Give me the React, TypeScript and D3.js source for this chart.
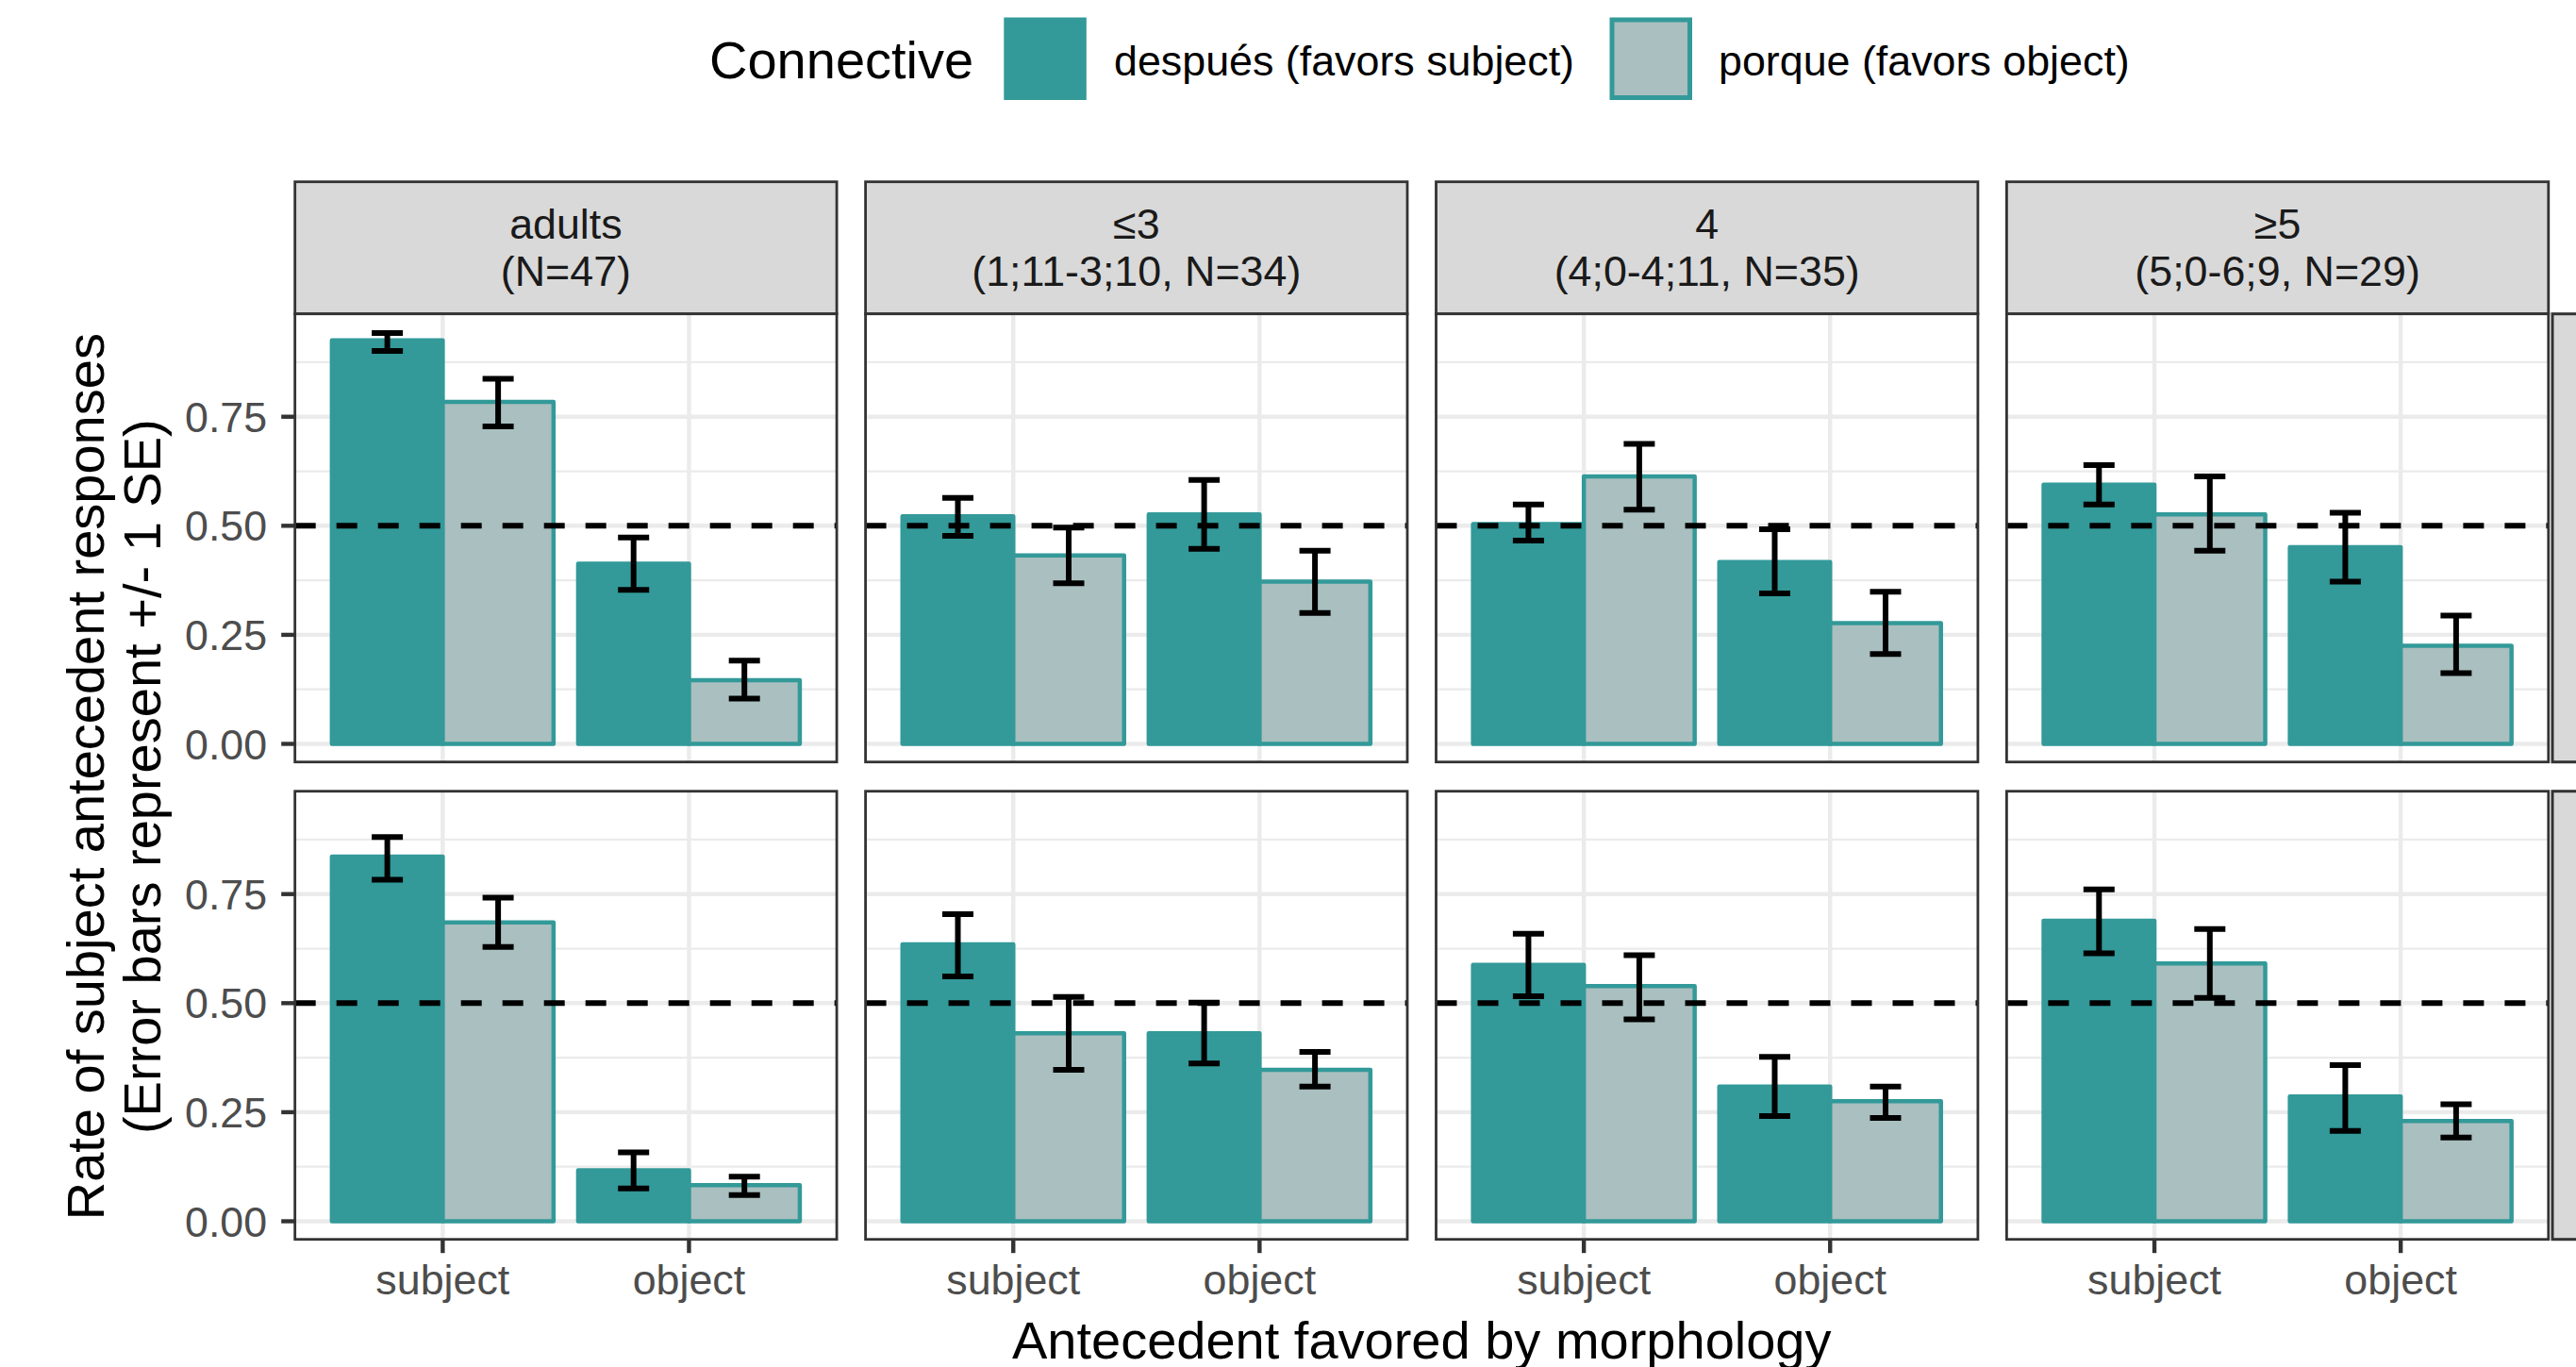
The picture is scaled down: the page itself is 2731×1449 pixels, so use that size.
import React from 'react';
import * as d3 from 'd3';

// facets (columns) and rows
const facets = ['adults', '≤3', '4', '≥5'];
const facetSub = ['(N=47)', '(1;11-3;10, N=34)', '(4;0-4;11, N=35)', '(5;0-6;9, N=29)'];
const antecedents = ['subject', 'object'];
const connectives = ['después', 'porque'];
const legendLabels = ['después (favors subject)', 'porque (favors object)'];
const yTicks = [0, 0.25, 0.5, 0.75];
const yMinor = [0.125, 0.375, 0.625, 0.875];

// values per row: [facet][antecedent][connective]
const row1Mean = [
  [[0.925, 0.784], [0.413, 0.146]],
  [[0.522, 0.432], [0.526, 0.372]],
  [[0.504, 0.613], [0.417, 0.277]],
  [[0.594, 0.526], [0.451, 0.225]],
];
const row1Lo = [
  [[0.901, 0.728], [0.353, 0.104]],
  [[0.477, 0.368], [0.447, 0.300]],
  [[0.466, 0.537], [0.345, 0.206]],
  [[0.549, 0.443], [0.372, 0.162]],
];
const row1Hi = [
  [[0.942, 0.837], [0.473, 0.191]],
  [[0.564, 0.496], [0.605, 0.443]],
  [[0.549, 0.688], [0.492, 0.349]],
  [[0.639, 0.613], [0.530, 0.294]],
];
const row2Mean = [
  [[0.836, 0.685], [0.117, 0.083]],
  [[0.635, 0.431], [0.431, 0.347]],
  [[0.588, 0.539], [0.309, 0.275]],
  [[0.689, 0.591], [0.286, 0.230]],
];
const row2Lo = [
  [[0.783, 0.629], [0.075, 0.060]],
  [[0.561, 0.347], [0.362, 0.309]],
  [[0.516, 0.463], [0.241, 0.237]],
  [[0.614, 0.512], [0.207, 0.192]],
];
const row2Hi = [
  [[0.881, 0.742], [0.158, 0.102]],
  [[0.704, 0.514], [0.501, 0.388]],
  [[0.659, 0.610], [0.377, 0.309]],
  [[0.761, 0.670], [0.358, 0.268]],
];

const rows = [
  { mean: row1Mean, lo: row1Lo, hi: row1Hi },
  { mean: row2Mean, lo: row2Lo, hi: row2Hi },
];

const TEAL = '#339999';
const GREY = '#aabfbf';
const FONT = '"Liberation Sans", Arial, sans-serif';

export default function App() {
  const W = 2731, H = 1449;
  const panelLeft = 312.7, colStep = 604.9, panelW = 574.4;
  const stripTop = 192.7, stripH = 140;
  const panelH = 475, rowGap = 31;
  const rowTop = (r: number) => stripTop + stripH + r * (panelH + rowGap);

  const y = d3.scaleLinear().domain([-0.0415, 0.9858]).range([panelH, 0]);
  const x = d3.scaleBand().domain(antecedents).range([0, panelW]).paddingInner(0.1).paddingOuter(0.15);
  const xSub = d3.scaleBand().domain(connectives).range([0, x.bandwidth()]);
  const fill = d3.scaleOrdinal<string, string>().domain(connectives).range([TEAL, GREY]);
  const capW = 33;

  const lastBottom = rowTop(1) + panelH;

  return (
    <svg width={W} height={H} style={{ position: 'absolute', left: 0, top: 0, background: '#fff' }} fontFamily={FONT}>
      {/* legend */}
      <g>
        <text x={752} y={83} fontSize={56} fill="#000">Connective</text>
        {legendLabels.map((lab, i) => {
          const kx = [1064.3, 1706.5][i];
          const tx = [1181, 1822][i];
          return (
            <g key={lab}>
              <rect x={kx + 2.5} y={21} width={82.5} height={82.5} fill={fill(connectives[i])} stroke={TEAL} strokeWidth={5} />
              <text x={tx} y={80} fontSize={44.8} fill="#000">{lab}</text>
            </g>
          );
        })}
      </g>

      {/* strips */}
      {facets.map((f, c) => {
        const px = panelLeft + c * colStep;
        return (
          <g key={'s' + f}>
            <rect x={px} y={stripTop} width={panelW} height={stripH} fill="#d9d9d9" stroke="#333333" strokeWidth={2.8} />
            <text x={px + panelW / 2} y={252.7} fontSize={44.8} fill="#1a1a1a" textAnchor="middle">{f}</text>
            <text x={px + panelW / 2} y={302.7} fontSize={44.8} fill="#1a1a1a" textAnchor="middle">{facetSub[c]}</text>
          </g>
        );
      })}

      {/* right strips (cut by the image edge) */}
      {rows.map((_, r) => (
        <rect key={'rs' + r} x={2706} y={rowTop(r)} width={80} height={panelH} fill="#d9d9d9" stroke="#333333" strokeWidth={3} />
      ))}

      {/* panels */}
      {rows.map((row, r) =>
        facets.map((f, c) => {
          const px = panelLeft + c * colStep;
          const py = rowTop(r);
          return (
            <g key={`p${r}-${c}`} transform={`translate(${px},${py})`}>
              <rect width={panelW} height={panelH} fill="#fff" />
              {yMinor.map((t) => (
                <line key={'mn' + t} x1={0} x2={panelW} y1={y(t)} y2={y(t)} stroke="#ebebeb" strokeWidth={2.2} />
              ))}
              {yTicks.map((t) => (
                <line key={'mj' + t} x1={0} x2={panelW} y1={y(t)} y2={y(t)} stroke="#ebebeb" strokeWidth={4.4} />
              ))}
              {antecedents.map((a) => {
                const cx = (x(a) as number) + x.bandwidth() / 2;
                return <line key={'vx' + a} x1={cx} x2={cx} y1={0} y2={panelH} stroke="#ebebeb" strokeWidth={4.4} />;
              })}
              {antecedents.map((a, ai) =>
                connectives.map((cn, ci) => {
                  const bx = (x(a) as number) + (xSub(cn) as number);
                  const v = row.mean[c][ai][ci];
                  return (
                    <rect key={`b${a}${cn}`} x={bx} y={y(v)} width={xSub.bandwidth()} height={y(0) - y(v)}
                      fill={fill(cn)} stroke={TEAL} strokeWidth={4.5} strokeLinejoin="round" />
                  );
                })
              )}
              <line x1={0} x2={panelW} y1={y(0.5)} y2={y(0.5)} stroke="#000" strokeWidth={6} strokeDasharray="22 22" />
              {antecedents.map((a, ai) =>
                connectives.map((cn, ci) => {
                  const cx = (x(a) as number) + (xSub(cn) as number) + xSub.bandwidth() / 2;
                  const lo = y(row.lo[c][ai][ci]);
                  const hi = y(row.hi[c][ai][ci]);
                  return (
                    <g key={`e${a}${cn}`} stroke="#000" strokeWidth={6}>
                      <line x1={cx} x2={cx} y1={lo} y2={hi} />
                      <line x1={cx - capW / 2} x2={cx + capW / 2} y1={lo} y2={lo} />
                      <line x1={cx - capW / 2} x2={cx + capW / 2} y1={hi} y2={hi} />
                    </g>
                  );
                })
              )}
              <rect width={panelW} height={panelH} fill="none" stroke="#333333" strokeWidth={2.8} />
            </g>
          );
        })
      )}

      {/* y axis */}
      {rows.map((_, r) => (
        <g key={'ya' + r} transform={`translate(${panelLeft},${rowTop(r)})`}>
          {yTicks.map((t) => (
            <g key={t}>
              <line x1={-14.5} x2={0} y1={y(t)} y2={y(t)} stroke="#333333" strokeWidth={4.4} />
              <text x={-29.5} y={y(t)} dy="0.36em" fontSize={44.8} fill="#4d4d4d" textAnchor="end">{d3.format('.2f')(t)}</text>
            </g>
          ))}
        </g>
      ))}

      {/* x axis */}
      {facets.map((f, c) => {
        const px = panelLeft + c * colStep;
        return (
          <g key={'xa' + f} transform={`translate(${px},${lastBottom})`}>
            {antecedents.map((a) => {
              const cx = (x(a) as number) + x.bandwidth() / 2;
              return (
                <g key={a}>
                  <line x1={cx} x2={cx} y1={0} y2={14.5} stroke="#333333" strokeWidth={4.4} />
                  <text x={cx} y={58} fontSize={44.8} fill="#4d4d4d" textAnchor="middle">{a}</text>
                </g>
              );
            })}
          </g>
        );
      })}

      {/* axis titles */}
      <text x={panelLeft + (3 * colStep + panelW) / 2} y={1440} fontSize={56} fill="#000" textAnchor="middle">
        Antecedent favored by morphology
      </text>
      <g transform={`translate(110,${(rowTop(0) + lastBottom) / 2}) rotate(-90)`}>
        <text x={0} y={0} fontSize={56} fill="#000" textAnchor="middle">Rate of subject antecedent responses</text>
        <text x={0} y={60} fontSize={56} fill="#000" textAnchor="middle">(Error bars represent +/- 1 SE)</text>
      </g>
    </svg>
  );
}
